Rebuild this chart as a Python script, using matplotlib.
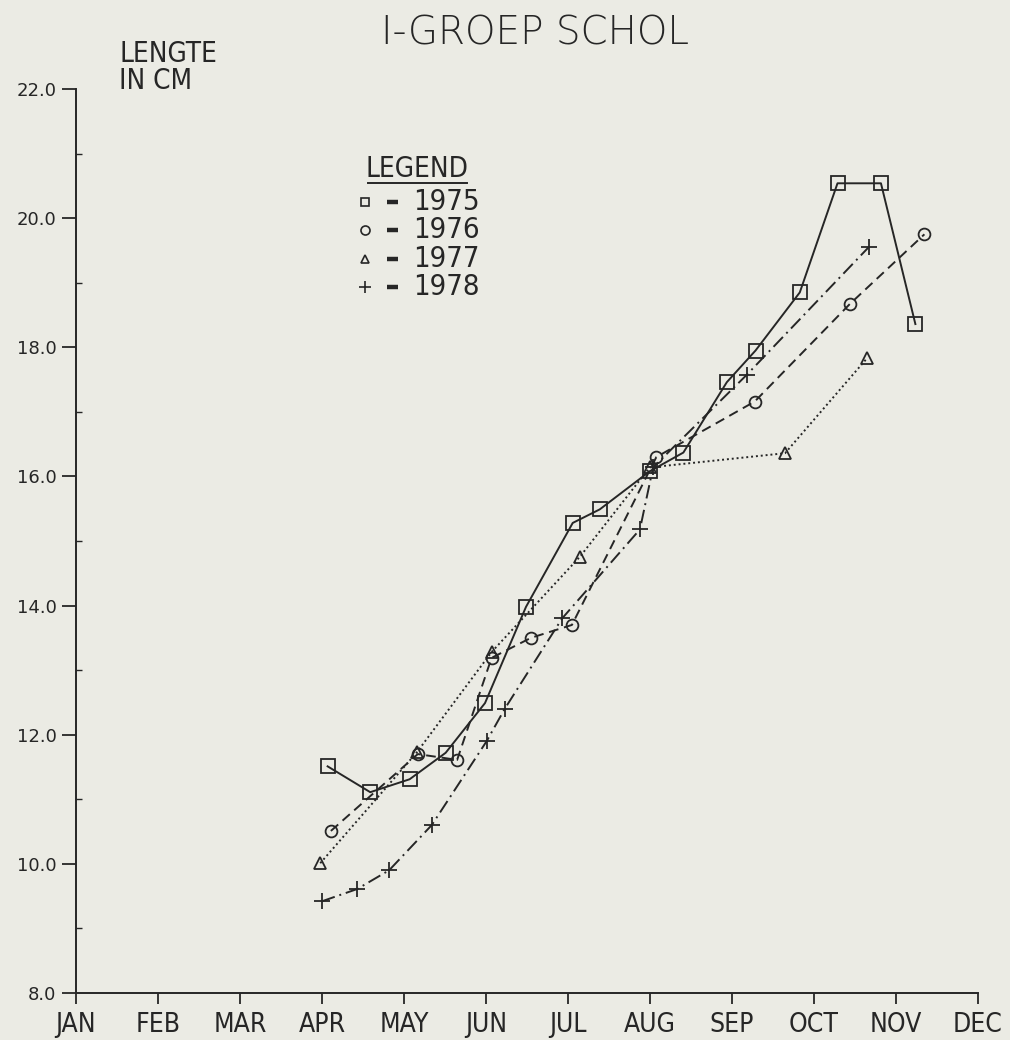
import matplotlib
matplotlib.use("Agg")
import matplotlib.pyplot as plt
from matplotlib.lines import Line2D

# ---- data (x = month position, JAN = 0 ... DEC = 11) ----
months = ["JAN", "FEB", "MAR", "APR", "MAY", "JUN", "JUL", "AUG", "SEP", "OCT", "NOV", "DEC"]

x1975 = [3.07, 3.59, 4.07, 4.51, 4.99, 5.49, 6.06, 6.39, 7.00, 7.41, 7.94, 8.29, 8.83, 9.29, 9.82, 10.24]
y1975 = [11.51, 11.11, 11.31, 11.72, 12.49, 13.98, 15.28, 15.49, 16.08, 16.37, 17.46, 17.95, 18.85, 20.54, 20.54, 18.36]

x1976 = [3.11, 4.17, 4.65, 5.07, 5.55, 6.05, 7.08, 8.28, 9.44, 10.35]
y1976 = [10.51, 11.70, 11.61, 13.19, 13.50, 13.70, 16.30, 17.16, 18.67, 19.75]

x1977 = [2.98, 4.16, 5.07, 6.15, 7.00, 8.65, 9.65]
y1977 = [10.01, 11.73, 13.28, 14.76, 16.14, 16.36, 17.83]

x1978 = [3.00, 3.43, 3.82, 4.34, 5.01, 5.23, 5.93, 6.88, 7.04, 8.18, 9.67]
y1978 = [9.42, 9.61, 9.90, 10.60, 11.90, 12.40, 13.80, 15.18, 16.14, 17.57, 19.55]

years = ["1975", "1976", "1977", "1978"]

BG = "#ebebe4"
INK = "#262626"
FONT = "DejaVu Sans"
W_PX, H_PX = 1010, 1040

fig = plt.figure(figsize=(10.1, 10.4), dpi=100, facecolor=BG)
ax = fig.add_axes([0.0752, 0.0452, 0.8928, 0.8692], facecolor=BG)

styles = [
    dict(x=x1975, y=y1975, marker="s", ms=9.5, ls="-"),
    dict(x=x1976, y=y1976, marker="o", ms=8.5, ls=(0, (5, 3))),
    dict(x=x1977, y=y1977, marker="^", ms=8, ls=(0, (1, 1.5))),
    dict(x=x1978, y=y1978, marker="+", ms=11, ls=(0, (7, 2.5, 1, 2.5))),
]
for s in styles:
    ax.plot(s["x"], s["y"], color=INK, lw=1.4, ls=s["ls"], marker=s["marker"],
            ms=s["ms"], mfc="none", mec=INK, mew=1.3)

ax.set_xlim(0, 11)
ax.set_ylim(8, 22)
for sp in ["top", "right"]:
    ax.spines[sp].set_visible(False)
for sp in ["left", "bottom"]:
    ax.spines[sp].set_color(INK)
    ax.spines[sp].set_linewidth(1.4)

ax.set_xticks(range(12))
ax.set_xticklabels(months, fontsize=19, family=FONT, fontstretch="condensed", color=INK)
ax.tick_params(axis="x", direction="out", length=8, width=1.3, colors=INK, pad=6)

ax.set_yticks([8, 10, 12, 14, 16, 18, 20, 22])
ax.set_yticklabels([f"{v:.1f}" for v in [8, 10, 12, 14, 16, 18, 20, 22]],
                   fontsize=13, family=FONT, color=INK)
ax.set_yticks([9, 11, 13, 15, 17, 19, 21], minor=True)
ax.tick_params(axis="y", which="major", direction="out", length=10, width=1.3, colors=INK, pad=4)
ax.tick_params(axis="y", which="minor", direction="in", length=4, width=1.0, colors=INK)

def fx(px):
    return px / W_PX

def fy(py):
    return 1 - py / H_PX

fig.text(0.53, 0.968, "I-GROEP SCHOL", ha="center", va="center", fontsize=28,
         family=FONT, color=INK, fontweight="light")
fig.text(fx(119), fy(40), "LENGTE\nIN CM", ha="left", va="top", fontsize=20,
         family=FONT, fontstretch="condensed", color=INK, linespacing=0.95)

# ---- legend (drawn by hand, like the plotter original) ----
fig.text(fx(417), fy(169), "LEGEND", ha="center", va="center", fontsize=20,
         family=FONT, fontstretch="condensed", color=INK)
fig.add_artist(Line2D([fx(368), fx(467)], [fy(183)] * 2, color=INK, lw=1.4))
leg_markers = [("s", 6), ("o", 6.5), ("^", 6), ("+", 8)]
leg_y = [202, 230, 259, 287]
for (mk, ms), yr, py in zip(leg_markers, years, leg_y):
    fig.add_artist(Line2D([fx(365)], [fy(py)], ls="none", marker=mk, ms=ms,
                          mfc="none", mec=INK, mew=1.2))
    fig.add_artist(Line2D([fx(387), fx(398)], [fy(py)] * 2, color=INK, lw=3.2,
                          solid_capstyle="butt"))
    fig.text(fx(413), fy(py), yr, ha="left", va="center", fontsize=21,
             family=FONT, fontstretch="condensed", color=INK)

fig.savefig("out.png", dpi=100, facecolor=BG)
